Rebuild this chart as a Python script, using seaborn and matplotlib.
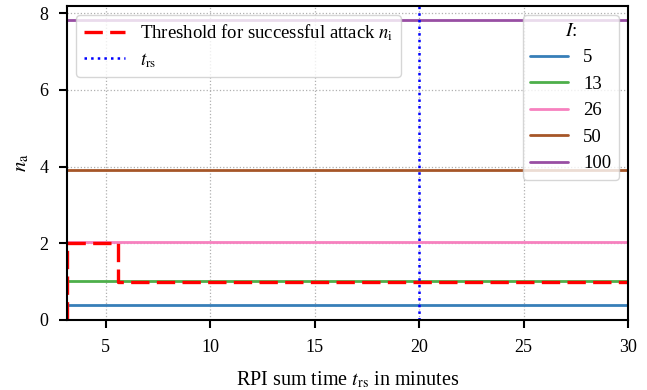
import matplotlib
matplotlib.use("Agg")
import matplotlib.pyplot as plt
import seaborn as sns
import pandas as pd
import numpy as np
from matplotlib.lines import Line2D

# Data
I_values = [5, 13, 26, 50, 100]
n_a_values = [0.39, 1.02, 2.03, 3.91, 7.81]
line_colors = ["#377eb8", "#4daf4a", "#f781bf", "#a65628", "#984ea3"]
x_start = 3.15
x_end = 30
threshold_x = [3.15, 3.15, 5.6, 5.6, 30]
threshold_y = [0, 2, 2, 1, 1]
t_rs = 20

sns.set_theme(style="ticks")
plt.rcParams["font.family"] = ["Liberation Serif", "DejaVu Serif"]
plt.rcParams["mathtext.fontset"] = "stix"
for k in ["text.color", "axes.labelcolor", "xtick.color", "ytick.color"]:
    plt.rcParams[k] = "black"

fig = plt.figure(figsize=(6.47, 3.9), dpi=100)
ax = fig.add_axes([0.1036, 0.1795, 0.8670, 0.8055])

rows = []
for I, v in zip(I_values, n_a_values):
    rows.append({"t": x_start, "n": v, "I": str(I)})
    rows.append({"t": x_end, "n": v, "I": str(I)})
df = pd.DataFrame(rows)
palette = dict(zip([str(i) for i in I_values], line_colors))
sns.lineplot(data=df, x="t", y="n", hue="I", palette=palette, ax=ax, lw=2, legend=False)

thr, = ax.plot(threshold_x, threshold_y, color="red", ls=(0, (5.5, 2.2)), lw=2.4,
               label=r"Threshold for successful attack $n_\mathrm{i}$")
vl = ax.axvline(t_rs, color="blue", ls=":", lw=1.8, label=r"$t_\mathrm{rs}$")

ax.set_xlim(x_start, x_end)
ax.set_ylim(0, 8.19)
ax.set_xticks([5, 10, 15, 20, 25, 30])
ax.set_yticks([0, 2, 4, 6, 8])
ax.grid(True, ls=":", color="#b0b0b0", lw=0.9)
for s in ax.spines.values():
    s.set_linewidth(1.5)
    s.set_color("black")
ax.tick_params(axis="both", which="major", direction="out", length=5.5, width=1.5,
               labelsize=13, colors="black", pad=8)
ax.set_xlabel(r"RPI sum time $t_\mathrm{rs}$ in minutes", fontsize=14.5, labelpad=10)
ax.set_ylabel(r"$n_\mathrm{a}$", fontsize=15, labelpad=6)

leg1 = ax.legend(handles=[thr, vl], loc="upper left", fontsize=13.5, framealpha=0.8,
                 edgecolor="#cccccc", handlelength=2.2, borderaxespad=0.5,
                 labelspacing=0.4)
ax.add_artist(leg1)
hs = [Line2D([0], [0], color=c, lw=2) for c in line_colors]
leg2 = ax.legend(hs, [str(i) for i in I_values], title=r"$I$:", loc="upper right",
                 fontsize=13.5, title_fontsize=14, framealpha=0.8, edgecolor="#cccccc",
                 labelspacing=0.5, borderaxespad=0.5)

fig.savefig("out.png", dpi=100)
